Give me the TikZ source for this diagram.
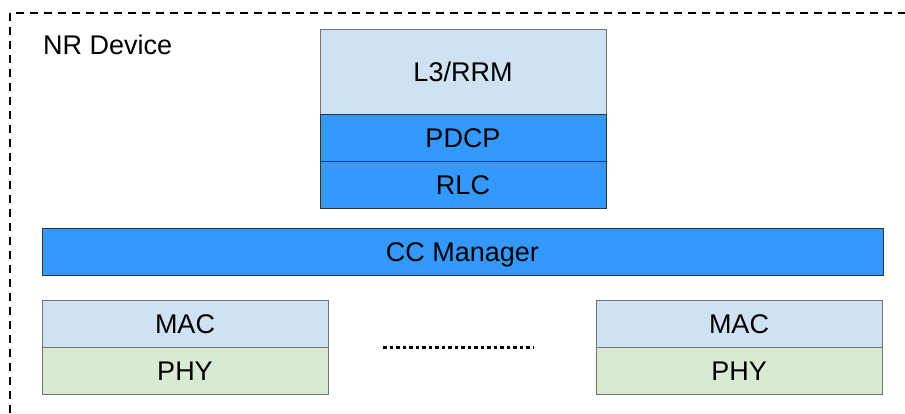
\documentclass[tikz,border=0pt]{standalone}
\usepackage{fontspec}
\setmainfont{Liberation Sans}
\usetikzlibrary{positioning}

\definecolor{lightblue}{HTML}{CFE2F3}
\definecolor{midblue}{HTML}{3399FF}
\definecolor{palegreen}{HTML}{D9EAD3}

\tikzset{every node/.style={font=\fontsize{27}{32}\selectfont}}
\tikzset{layer/.style={line width=0.8pt, inner sep=0pt, outer sep=0pt,
    text height=19.3pt, text depth=0pt,
    minimum width=286pt, minimum height=47pt}}
\tikzset{lightbox/.style={layer, draw=black!55, fill=lightblue}}
\tikzset{bluebox/.style={layer, draw=black!80, fill=midblue}}
\tikzset{greenbox/.style={layer, draw=black!55, fill=palegreen}}

\begin{document}
\begin{tikzpicture}[x=1pt, y=-1pt]
    \useasboundingbox (0,0) rectangle (905,414);
    % device boundary, only top and left edges fall inside the page
    \draw [line width=2.5pt, dash pattern = on 8pt off 6pt] (10,13) rectangle (960,470);
    \node [anchor=base west, inner sep=0pt] (device) at (43,55) {NR Device};

    % upper layers
    \node [lightbox, minimum height=85pt, anchor=north west] (l3) at (320,29) {L3/RRM};
    \node [bluebox, below=0pt of l3] (pdcp) {PDCP};
    \node [bluebox, below=0pt of pdcp] (rlc) {RLC};

    \node [bluebox, minimum width=841pt, anchor=north west] (cc) at (42,228) {CC Manager};

    % carriers
    \node [lightbox, anchor=north west] (macA) at (42,300) {MAC};
    \node [greenbox, below=0pt of macA] (phyA) {PHY};
    \node [lightbox, anchor=north west] (macB) at (596,300) {MAC};
    \node [greenbox, below=0pt of macB] (phyB) {PHY};

    \coordinate (dotsL) at (383,347);
    \coordinate (dotsR) at (533,347);
    \draw [line width=3pt, dash pattern = on 3.5pt off 3pt] (dotsL) -- (dotsR);
\end{tikzpicture}
\end{document}
